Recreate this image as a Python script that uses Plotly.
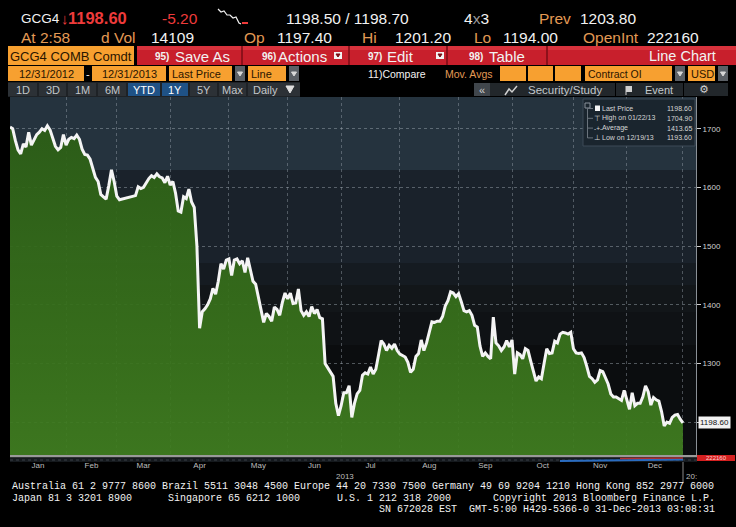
import numpy as np
import plotly.graph_objects as go

# ---------------- data ----------------
month_names = ["Jan", "Feb", "Mar", "Apr", "May", "Jun", "Jul", "Aug", "Sep", "Oct", "Nov", "Dec"]
month_trading_days = [21, 19, 20, 22, 22, 20, 22, 22, 20, 23, 20, 21]

price = [
    1703, 1700, 1680, 1664, 1657, 1674, 1669, 1694, 1672, 1680,
    1690, 1694, 1700, 1697, 1704.9, 1698, 1685, 1670, 1664, 1668,
    1690, 1672, 1682, 1685, 1683, 1689, 1682, 1665, 1656, 1655,
    1648, 1630, 1617, 1610, 1588, 1584, 1580, 1603, 1630, 1610,
    1585, 1579, 1580, 1582, 1583, 1584, 1585, 1586, 1601, 1598,
    1600, 1608, 1615, 1620, 1617, 1623, 1618, 1616, 1608, 1619,
    1604, 1610, 1590, 1560, 1558, 1584, 1581, 1597, 1575, 1566,
    1500, 1360, 1388, 1393, 1400, 1410, 1428, 1418, 1440, 1470,
    1461, 1476, 1478, 1450, 1476, 1478, 1470, 1475, 1455, 1480,
    1460, 1440, 1435, 1413, 1395, 1370, 1385, 1380, 1372, 1396,
    1392, 1382, 1404, 1420, 1410, 1420, 1402, 1403, 1427, 1390,
    1382, 1388, 1380, 1397, 1385, 1392, 1378, 1376, 1300, 1292,
    1285, 1278, 1232, 1211, 1228, 1250, 1250, 1262, 1208, 1232,
    1248, 1254, 1280, 1284, 1282, 1294, 1282, 1290, 1314, 1339,
    1333, 1322, 1331, 1326, 1333, 1322, 1316, 1313, 1311, 1302,
    1285, 1290, 1312, 1317, 1340, 1322, 1335, 1353, 1371, 1370,
    1372, 1372, 1380, 1398, 1407, 1422, 1420, 1414, 1419, 1405,
    1390, 1388, 1390, 1382, 1365, 1362, 1330, 1312, 1318, 1312,
    1308, 1379, 1335, 1330, 1322, 1328, 1339, 1328, 1340, 1282,
    1318, 1315, 1308, 1325, 1322, 1304, 1286, 1270, 1277, 1274,
    1300, 1325, 1317, 1318, 1338, 1335, 1350, 1353, 1352, 1350,
    1353, 1325, 1318, 1317, 1318, 1310, 1295, 1278, 1274, 1268,
    1272, 1288, 1286, 1276, 1265, 1248, 1243, 1243, 1240, 1237,
    1254, 1238, 1222, 1250, 1228, 1232, 1232, 1243, 1262, 1252,
    1229, 1242, 1238, 1236, 1218, 1193.6, 1200, 1198, 1208, 1212,
    1213, 1205, 1198.6,
]

y_tick_values = [1200, 1300, 1400, 1500, 1600, 1700]
y_tick_labels = ["", "1300", "1400", "1500", "1600", "1700"]

legend_rows = [("Last Price", "1198.60"), ("High on 01/22/13", "1704.90"),
               ("Average", "1413.65"), ("Low on 12/19/13", "1193.60")]

# ---------------- geometry helpers (pixel -> paper) ----------------
PL, PR, PT, PB = 10, 696, 97, 455
W, H = PR - PL, PB - PT


def X(px):
    return (px - PL) / W


def Y(py):
    return (PB - py) / H


HF = "Liberation Sans, Arial, sans-serif"
MF = "Liberation Mono, DejaVu Sans Mono, monospace"

shapes = []
annotations = []


def rect(x0, y0, x1, y1, fill, line=None, layer="above", lw=1):
    shapes.append(dict(type="rect", xref="paper", yref="paper", x0=X(x0), x1=X(x1),
                       y0=Y(y1), y1=Y(y0), fillcolor=fill, layer=layer,
                       line=dict(width=lw if line else 0, color=line or fill)))


def seg(x0, y0, x1, y1, color, width=1, dash="solid", layer="above"):
    shapes.append(dict(type="line", xref="paper", yref="paper", x0=X(x0), x1=X(x1),
                       y0=Y(y0), y1=Y(y1), layer=layer,
                       line=dict(color=color, width=width, dash=dash)))


def path(points, color, width=1, fill=None):
    d = "M " + " L ".join(f"{X(px):.5f},{Y(py):.5f}" for px, py in points)
    if fill:
        d += " Z"
    shapes.append(dict(type="path", xref="paper", yref="paper", path=d,
                       line=dict(color=color, width=width),
                       fillcolor=fill if fill else "rgba(0,0,0,0)"))


def txt(px, py, s, color="#f0f0f0", size=12, anchor="left", family=HF, bold=False):
    if bold:
        s = f"<b>{s}</b>"
    annotations.append(dict(x=X(px), y=Y(py), xref="paper", yref="paper", text=s,
                            showarrow=False, xanchor=anchor, yanchor="middle",
                            font=dict(size=size, color=color, family=family),
                            borderpad=0, borderwidth=0))


# ---------------- chart background bands ----------------
bands = [(97, 170, "#25333e"), (170, 263, "#1a222b"), (263, 285, "#151b21"),
         (285, 312, "#121619"), (312, 345, "#0f1215"), (345, 455, "#0b0d0f")]
for y0, y1, c in bands:
    rect(PL, y0, PR, y1, c, layer="below")

# ---------------- figure ----------------
idx = list(range(len(price)))
bounds = np.cumsum(month_trading_days)
starts = np.concatenate([[0], bounds[:-1]])
mids = [(a + b) / 2 for a, b in zip(starts, bounds)]
y_range = [1144, 1754]

fig = go.Figure()
fig.add_trace(go.Scatter(
    x=idx, y=price, mode="lines",
    line=dict(color="#f4f4f4", width=3),
    fill="tozeroy",
    fillgradient=dict(type="vertical", start=y_range[0], stop=y_range[1],
                      colorscale=[[0, "rgba(64,126,32,0.93)"], [1, "rgba(42,92,20,0.93)"]]),
    hoverinfo="skip",
))

# ---------------- header ----------------
RED = "#ee3b3b"
ORL = "#e39a55"
WH = "#f2f2f2"
OB = "#f7a030"
DK = "#2a1500"
S1 = 15.5

# row 1
txt(21, 18, "GCG4", WH, 13.5)
txt(61, 18, "↓", RED, 15)
txt(68, 18, "1198.60", RED, 16.5, bold=True)
txt(162, 18, "-5.20", RED, S1)
path([(218, 9), (221, 12), (224, 11), (227, 15), (230, 15), (233, 18), (236, 17), (239, 23), (241, 24)], WH, 1.2)
seg(242, 23, 248, 23, RED, 2)
txt(286, 18, "1198.50 / 1198.70", WH, S1)
txt(464, 18, "4<span style='color:#999'>x</span>3", WH, S1)
txt(539, 18, "Prev", ORL, S1)
txt(580, 18, "1203.80", WH, S1)
# row 2
txt(21, 37, "At 2:58", ORL, S1)
txt(101, 37, "d Vol", ORL, S1)
txt(151, 37, "14109", WH, S1)
txt(244, 37, "Op", ORL, S1)
txt(277, 37, "1197.40", WH, S1)
txt(362, 37, "Hi", ORL, S1)
txt(395, 37, "1201.20", WH, S1)
txt(474, 37, "Lo", ORL, S1)
txt(503, 37, "1194.00", WH, S1)
txt(583, 37, "OpenInt", ORL, S1)
txt(647, 37, "222160", WH, S1)

# row 3
rect(8, 46, 134, 65, OB)
txt(10, 56, "GCG4 COMB Comdt", DK, 13)
rect(137, 46, 736, 65, "#c81f2c")
rect(137, 46, 736, 50, "#d8323c")
for sx in [242, 349, 447, 547]:
    seg(sx, 46, sx, 65, "#7a0c14", 1.5)
txt(155, 56, "95)", WH, 10, bold=True)
txt(175, 56, "Save As", WH, 15)
txt(262, 56, "96)", WH, 10, bold=True)
txt(278, 56, "Actions", WH, 15)
rect(334, 52, 342, 59, WH)
path([(336, 54), (340, 54), (338, 57)], "#7a0c14", 1, fill="#7a0c14")
txt(368, 56, "97)", WH, 10, bold=True)
txt(387, 56, "Edit", WH, 15)
rect(436, 52, 444, 59, WH)
path([(438, 54), (442, 54), (440, 57)], "#7a0c14", 1, fill="#7a0c14")
txt(469, 56, "98)", WH, 10, bold=True)
txt(489, 56, "Table", WH, 15)
txt(716, 56, "Line Chart", WH, 14.5, anchor="right")

# row 4
R4 = 11


def obox(x0, x1, label=None, anchor="center", size=R4):
    rect(x0, 66, x1, 81, OB)
    if label:
        if anchor == "center":
            txt((x0 + x1) / 2, 73.5, label, DK, size, anchor="center")
        else:
            txt(x0 + 3, 73.5, label, DK, size)


def gbox(x0, x1):
    rect(x0, 66, x1, 81, "#5b6066")
    path([(x0 + 2.5, 72), (x1 - 2.5, 72), ((x0 + x1) / 2, 76)], "#d8d8d8", 1, fill="#d8d8d8")


obox(8, 84, "12/31/2012")
txt(86, 73.5, "-", WH, R4)
obox(92, 166, "12/31/2013")
obox(169, 232, "Last Price", anchor="left")
gbox(235, 245)
obox(248, 286, "Line", anchor="left")
gbox(289, 299)
txt(368, 73.5, "11)Compare", WH, 10.5)
txt(445, 73.5, "Mov. Avgs", ORL, 10.5)
obox(500, 526)
obox(528, 553)
obox(555, 581)
obox(585, 672, "Contract OI", anchor="left", size=10.5)
gbox(675, 685)
obox(688, 715, "USD", anchor="left")
gbox(718, 728)

# row 5
rect(8, 82, 300, 97, "#1e2226")
tabs = [(8, 37, "1D"), (39, 66, "3D"), (68, 96, "1M"), (98, 126, "6M"), (128, 160, "YTD"),
        (162, 188, "1Y"), (190, 217, "5Y"), (219, 246, "Max")]
for x0, x1, lab in tabs:
    blue = lab in ("YTD", "1Y")
    rect(x0, 83, x1, 96, "#1f5286" if blue else "#2c3136")
    txt((x0 + x1) / 2, 89.5, lab, "#ffffff" if blue else "#c3c7cb", 11, anchor="center")
rect(248, 83, 300, 96, "#2c3136")
txt(253, 89.5, "Daily", "#c3c7cb", 11)
path([(286, 86), (294, 86), (290, 93)], "#e0e0e0", 1, fill="#e0e0e0")
rect(474, 83, 490, 96, "#40464c")
txt(482, 89.5, "«", "#d0d0d0", 11, anchor="center")
rect(490, 83, 615, 96, "#22272b")
path([(505, 95), (509, 89), (512, 92), (517, 86)], "#d0d0d0", 1.5)
txt(528, 89.5, "Security/Study", "#c3c7cb", 11.5)
rect(616, 83, 683, 96, "#22272b")
rect(626, 86, 632, 92, "#d0d0d0")
seg(626, 86, 626, 95, "#d0d0d0", 1)
txt(645, 89.5, "Event", "#c3c7cb", 11)
rect(684, 83, 728, 96, "#22272b")
txt(704, 89.5, "⚙", "#d0d0d0", 11, anchor="center", family="DejaVu Sans")

# ---------------- legend box ----------------
rect(583, 99, 695, 146, "#1a252e", line="#3c4a56")
rect(585, 103, 590, 108, "rgba(0,0,0,0)", line="#8a939c")
seg(587.5, 108, 587.5, 138, "#6a737c", 1)
for i, (lab, val) in enumerate(legend_rows):
    ry = 108.5 + i * 9.8
    seg(587.5, ry, 593, ry, "#6a737c", 1)
    txt(602, ry, lab, "#d6d6d6", 7)
    txt(692, ry, val, "#d6d6d6", 7, anchor="right")
rect(595, 105.5, 600, 111, "#f4f4f4")
txt(597.5, 118.3, "⊤", "#d6d6d6", 7.5, anchor="center", family="DejaVu Sans")
txt(597.5, 128.1, "-+-", "#d6d6d6", 6.5, anchor="center")
txt(597.5, 137.9, "⊥", "#d6d6d6", 7.5, anchor="center", family="DejaVu Sans")

# ---------------- bottom strip ----------------
rect(PL, 455, 697, 457.5, "#9a9a9a")
rect(PL, 457.5, 697, 462, "#15191d")
seg(PL, 460, 697, 460, "#3a4148", 1, dash="dot")
seg(560, 461, 683, 459.5, "#2a6cc0", 2)
seg(620, 458.5, 683, 458, "#b03030", 1.5)
rect(697, 455, 735, 461, "#d42020")
txt(716, 458, "222160", "#ffd0d0", 6, anchor="center")
seg(683, 462, 683, 483, "#888888", 1)
txt(345, 476, "2013", "#bdbdbd", 8, anchor="center")
txt(686, 476, "20:", "#bdbdbd", 8)

# last price tag
annotations.append(dict(x=1.0, y=price[-1], xref="paper", yref="y", xshift=2,
                        text=f"{price[-1]:.2f}", showarrow=False, xanchor="left", yanchor="middle",
                        bgcolor="#f2f2f2", font=dict(size=8, color="#111111", family=HF), borderpad=1))

# ---------------- footer ----------------
txt(12, 487, "Australia 61 2 9777 8600 Brazil 5511 3048 4500 Europe 44 20 7330 7500 Germany 49 69 9204 1210 Hong Kong 852 2977 6000", WH, 10, family=MF)
txt(12, 498, "Japan 81 3 3201 8900", WH, 10, family=MF)
txt(168, 498, "Singapore 65 6212 1000", WH, 10, family=MF)
txt(337, 498, "U.S. 1 212 318 2000", WH, 10, family=MF)
txt(715, 498, "Copyright 2013 Bloomberg Finance L.P.", WH, 10, anchor="right", family=MF)
txt(715, 509, "SN 672028 EST  GMT-5:00 H429-5366-0 31-Dec-2013 03:08:31", WH, 10, anchor="right", family=MF)

fig.update_layout(
    width=736, height=527,
    margin=dict(l=PL, r=736 - PR, t=PT, b=527 - PB, pad=0),
    paper_bgcolor="#000000", plot_bgcolor="#0b0d0f",
    showlegend=False,
    font=dict(family=HF, color="#e0e0e0"),
    shapes=shapes, annotations=annotations,
    xaxis=dict(range=[0, 256.9], tickmode="array", tickvals=mids, ticktext=month_names,
               showgrid=False, ticks="", zeroline=False, showline=False,
               tickfont=dict(size=8, color="#bdbdbd", family=HF), ticklabelstandoff=4,
               minor=dict(tickmode="array", tickvals=[float(b) for b in bounds], showgrid=True,
                          gridcolor="rgba(165,175,185,0.40)", griddash="dot", gridwidth=1, ticks=""),
               fixedrange=True),
    yaxis=dict(range=y_range, side="right", tickmode="array", tickvals=y_tick_values,
               ticktext=y_tick_labels, showgrid=True, gridcolor="rgba(165,175,185,0.45)",
               griddash="dot", gridwidth=1, ticks="outside", ticklen=4, tickcolor="#cfcfcf",
               tickfont=dict(size=8, color="#d0d0d0", family=HF), showline=True,
               linecolor="#8a9096", linewidth=1, zeroline=False, fixedrange=True),
)

fig.write_html("out.html", config={"displayModeBar": False},
               post_script="document.body.style.margin='0px';")
